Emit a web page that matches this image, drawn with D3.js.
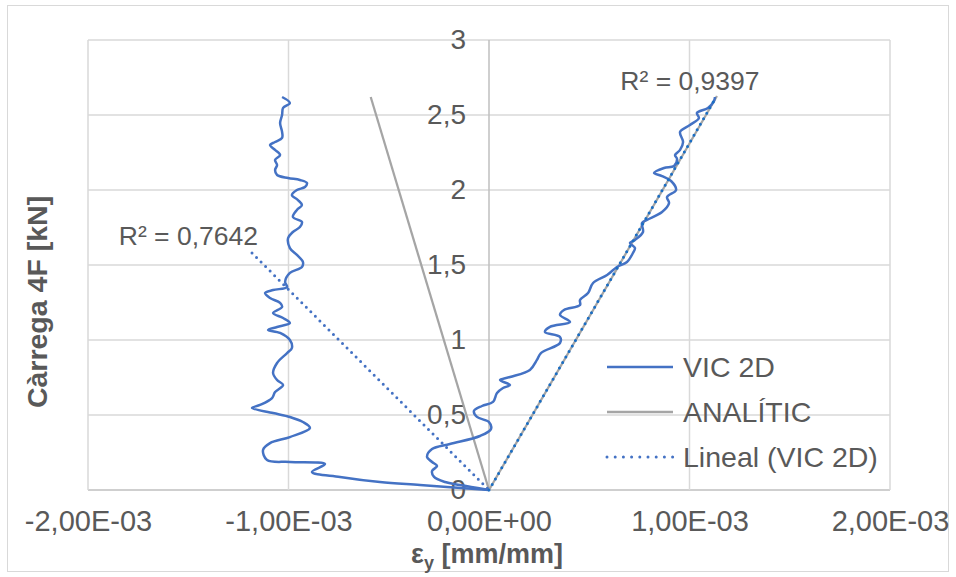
<!DOCTYPE html>
<html>
<head>
<meta charset="utf-8">
<script src="https://cdn.jsdelivr.net/npm/d3@7/dist/d3.min.js"></script>
<style>
  html, body { margin: 0; padding: 0; background: #ffffff; }
  svg { display: block; font-family: "Liberation Sans", Arial, sans-serif; }
</style>
</head>
<body>
<svg id="chart" width="956" height="577"></svg>
<script>
// Strain values are in units of 1e-3 mm/mm, loads in kN.
// VIC 2D – gauge on the tension side (positive strain)
const vicRightStrain = [0.000, -0.145, -0.219, -0.274, -0.284, -0.259, -0.284, -0.309, -0.284, -0.195,
  -0.045, 0.010, 0.000, -0.060, -0.075, -0.035, 0.020, 0.040, 0.070, 0.105,
  0.055, 0.105, 0.204, 0.239, 0.259, 0.354, 0.354, 0.279, 0.304, 0.404,
  0.354, 0.374, 0.454, 0.454, 0.494, 0.519, 0.589, 0.638, 0.688, 0.718,
  0.728, 0.703, 0.728, 0.768, 0.763, 0.788, 0.863, 0.898, 0.888, 0.933,
  0.908, 0.863, 0.823, 0.873, 0.923, 0.938, 0.928, 0.953, 0.968, 0.953,
  1.002, 1.047, 1.037, 1.092, 1.122, 1.127];
const vicRightLoad = [0.000, 0.033, 0.053, 0.087, 0.127, 0.160, 0.187, 0.220, 0.273, 0.307,
  0.360, 0.407, 0.453, 0.487, 0.527, 0.560, 0.587, 0.647, 0.680, 0.700,
  0.733, 0.753, 0.800, 0.867, 0.913, 0.980, 1.020, 1.053, 1.087, 1.120,
  1.167, 1.200, 1.233, 1.267, 1.313, 1.380, 1.433, 1.487, 1.520, 1.580,
  1.613, 1.647, 1.667, 1.720, 1.780, 1.800, 1.853, 1.913, 1.953, 2.000,
  2.060, 2.093, 2.113, 2.147, 2.160, 2.207, 2.233, 2.267, 2.320, 2.387,
  2.433, 2.480, 2.513, 2.547, 2.593, 2.620];

// VIC 2D – gauge on the compression side (negative strain)
const vicLeftStrain = [0.000, -0.344, -0.544, -0.743, -0.883, -0.818, -0.993, -1.107, -1.127, -1.092,
  -0.993, -0.893, -0.928, -0.993, -1.077, -1.182, -1.142, -1.082, -1.067, -1.027,
  -1.057, -1.077, -1.057, -1.007, -0.983, -0.993, -1.042, -1.102, -1.057, -0.993,
  -1.027, -1.077, -1.032, -1.042, -1.092, -1.117, -1.077, -1.007, -1.017, -0.993,
  -0.933, -0.928, -0.958, -0.993, -1.002, -0.978, -0.943, -0.933, -0.978, -0.958,
  -0.933, -0.953, -0.983, -0.958, -0.918, -0.908, -0.943, -1.002, -1.057, -1.067,
  -1.057, -1.067, -1.042, -1.067, -1.092, -1.067, -1.032, -1.032, -1.042, -1.032,
  -1.027, -0.993, -1.032];
const vicLeftLoad = [0.000, 0.033, 0.053, 0.087, 0.120, 0.173, 0.187, 0.200, 0.267, 0.313,
  0.353, 0.413, 0.453, 0.487, 0.513, 0.547, 0.567, 0.613, 0.653, 0.700,
  0.733, 0.780, 0.847, 0.913, 0.947, 1.000, 1.047, 1.067, 1.087, 1.113,
  1.147, 1.180, 1.220, 1.247, 1.280, 1.313, 1.333, 1.353, 1.387, 1.447,
  1.487, 1.520, 1.567, 1.613, 1.680, 1.720, 1.753, 1.787, 1.820, 1.867,
  1.900, 1.933, 1.967, 2.000, 2.020, 2.047, 2.067, 2.080, 2.100, 2.133,
  2.167, 2.200, 2.233, 2.267, 2.300, 2.320, 2.347, 2.387, 2.447, 2.500,
  2.547, 2.580, 2.620];

// Analytical prediction (straight lines from the origin)
const analyticRightStrain = [0, 1.137];
const analyticRightLoad = [0, 2.627];
const analyticLeftStrain = [0, -0.590];
const analyticLeftLoad = [0, 2.620];

// Linear trend lines of the VIC 2D series
const trendRightStrain = [0, 1.122];
const trendRightLoad = [0, 2.595];
const trendLeftStrain = [-1.182, 0];
const trendLeftLoad = [1.580, 0];
const trendLabels = ["R² = 0,9397", "R² = 0,7642"];

// Axes
const xTickValues = [-2e-3, -1e-3, 0, 1e-3, 2e-3];
const xTickLabels = ["-2,00E-03", "-1,00E-03", "0,00E+00", "1,00E-03", "2,00E-03"];
const yTickValues = [0, 0.5, 1, 1.5, 2, 2.5, 3];
const yTickLabels = ["0", "0,5", "1", "1,5", "2", "2,5", "3"];
const legendLabels = ["VIC 2D", "ANALÍTIC", "Lineal (VIC 2D)"];

const blue = "#4472C4", trendBlue = "#1a6ec4", grey = "#A5A5A5", textCol = "#595959";
const fontFam = "Liberation Sans, Arial, sans-serif";
const svg = d3.select("#chart");
const plot = { left: 88, right: 890, top: 40, bottom: 490 };

const x = d3.scaleLinear().domain([-2e-3, 2e-3]).range([plot.left, plot.right]);
const y = d3.scaleLinear().domain([0, 3]).range([plot.bottom, plot.top]);

// chart border
svg.append("rect").attr("x", 7.5).attr("y", 5.5).attr("width", 941).attr("height", 566)
  .attr("fill", "#fff").attr("stroke", "#D9D9D9").attr("stroke-width", 1);

// gridlines
const grid = svg.append("g");
grid.selectAll("line.h").data(yTickValues).join("line")
  .attr("x1", plot.left).attr("x2", plot.right)
  .attr("y1", d => y(d)).attr("y2", d => y(d))
  .attr("stroke", d => d === 0 ? "#BFBFBF" : "#D9D9D9").attr("stroke-width", 1.5);
grid.selectAll("line.v").data(xTickValues).join("line")
  .attr("y1", plot.top).attr("y2", plot.bottom)
  .attr("x1", d => x(d)).attr("x2", d => x(d))
  .attr("stroke", d => d === 0 ? "#BFBFBF" : "#D9D9D9").attr("stroke-width", 1.5);

// x axis labels (below the plot area)
const xAxis = d3.axisBottom(x).tickValues(xTickValues)
  .tickFormat((d, i) => xTickLabels[i]).tickSize(0).tickPadding(0);
const gx = svg.append("g").attr("transform", `translate(0,${plot.bottom + 20})`).call(xAxis);
gx.select(".domain").remove();
gx.selectAll("text").attr("font-size", 29).attr("fill", textCol)
  .attr("font-family", fontFam).attr("dy", "0.71em");

// y axis labels, next to the vertical axis at zero strain
const yAxis = d3.axisLeft(y).tickValues(yTickValues)
  .tickFormat((d, i) => yTickLabels[i]).tickSize(0).tickPadding(23);
const gy = svg.append("g").attr("transform", `translate(${x(0)},0)`).call(yAxis);
gy.select(".domain").remove();
gy.selectAll("text").attr("font-size", 28).attr("fill", textCol)
  .attr("font-family", fontFam);

const line = d3.line().x(d => x(d[0] * 1e-3)).y(d => y(d[1]));
const smooth = d3.line().x(d => x(d[0] * 1e-3)).y(d => y(d[1])).curve(d3.curveCatmullRom.alpha(0.5));
const zip = (a, b) => a.map((v, i) => [v, b[i]]);

const marks = svg.append("g");
// analytical lines
marks.append("path").attr("d", line(zip(analyticLeftStrain, analyticLeftLoad)))
  .attr("fill", "none").attr("stroke", grey).attr("stroke-width", 2.25);
marks.append("path").attr("d", line(zip(analyticRightStrain, analyticRightLoad)))
  .attr("fill", "none").attr("stroke", grey).attr("stroke-width", 2.25);
// VIC 2D measurements
marks.append("path").attr("d", smooth(zip(vicLeftStrain, vicLeftLoad)))
  .attr("fill", "none").attr("stroke", blue).attr("stroke-width", 2.5).attr("stroke-linejoin", "round");
marks.append("path").attr("d", smooth(zip(vicRightStrain, vicRightLoad)))
  .attr("fill", "none").attr("stroke", blue).attr("stroke-width", 2.5).attr("stroke-linejoin", "round");
// trend lines
marks.append("path").attr("d", line(zip(trendLeftStrain, trendLeftLoad)))
  .attr("fill", "none").attr("stroke", blue).attr("stroke-width", 3)
  .attr("stroke-dasharray", "0 6.4").attr("stroke-linecap", "round");
marks.append("path").attr("d", line(zip(trendRightStrain, trendRightLoad)))
  .attr("fill", "none").attr("stroke", trendBlue).attr("stroke-width", 3)
  .attr("stroke-dasharray", "0 6.4").attr("stroke-linecap", "round");

// R² labels at the upper ends of the trend lines
svg.append("text").attr("x", x(trendRightStrain[1] * 1e-3) - 24).attr("y", y(trendRightLoad[1]) - 11)
  .attr("text-anchor", "middle").attr("font-size", 26.5).attr("fill", textCol).text(trendLabels[0]);
svg.append("text").attr("x", x(trendLeftStrain[0] * 1e-3) + 6).attr("y", y(trendLeftLoad[0]) - 8)
  .attr("text-anchor", "end").attr("font-size", 26.5).attr("fill", textCol).text(trendLabels[1]);

// axis titles
svg.append("text").attr("x", x(0) - 2).attr("y", 563).attr("text-anchor", "middle")
  .attr("font-size", 27).attr("font-weight", "bold").attr("fill", textCol)
  .call(t => {
    t.append("tspan").text("ε");
    t.append("tspan").attr("font-size", 18).attr("dy", 6).text("y");
    t.append("tspan").attr("dy", -6).text(" [mm/mm]");
  });
svg.append("text").attr("transform", `translate(47,302) rotate(-90)`)
  .attr("text-anchor", "middle").attr("font-size", 28.5).attr("font-weight", "bold")
  .attr("fill", textCol).text("Càrrega 4F [kN]");

// legend
const legendY = [367, 412, 457];
const lg = svg.append("g");
legendLabels.forEach((lab, i) => {
  const ln = lg.append("line").attr("x1", 607).attr("x2", 673)
    .attr("y1", legendY[i]).attr("y2", legendY[i]);
  if (i === 0) ln.attr("stroke", blue).attr("stroke-width", 2.5);
  if (i === 1) ln.attr("stroke", grey).attr("stroke-width", 2.5);
  if (i === 2) ln.attr("stroke", blue).attr("stroke-width", 3)
    .attr("stroke-dasharray", "0 8.2").attr("stroke-linecap", "round");
  lg.append("text").attr("x", 683).attr("y", legendY[i]).attr("dy", "0.36em")
    .attr("font-size", 28.5).attr("fill", textCol).text(lab);
});
</script>
</body>
</html>
